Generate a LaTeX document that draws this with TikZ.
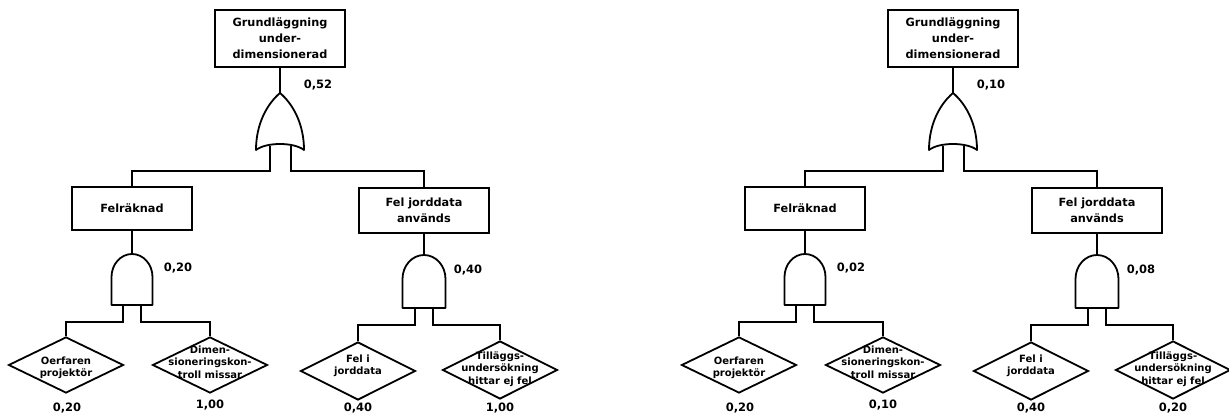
\documentclass[tikz,border=0pt]{standalone}
\usepackage{fontspec}
\setmainfont{DejaVu Sans}
\usetikzlibrary{shapes.geometric}
\tikzset{
  wire/.style={line width=1.8pt},
  gate/.style={line width=1.8pt, line join=round},
  evbox/.style={draw, line width=1.8pt, rectangle, inner sep=0pt, align=center, font=\fontsize{11.3}{16}\selectfont\bfseries},
  dia/.style={draw, line width=1.8pt, diamond, inner sep=0pt, minimum width=115pt, minimum height=56pt},
  dtext/.style={align=center, inner sep=0pt, font=\fontsize{10}{12.5}\selectfont\bfseries},
  prob/.style={inner sep=0pt, font=\fontsize{11.5}{13}\selectfont\bfseries},
}
\newcommand\ftree[7]{%
  \node[evbox, minimum width=130pt, minimum height=57pt] (top) at (280,38.5) {Grundläggning\\under-\\dimensionerad};
  \coordinate (orT) at (280,93);
  \draw[gate] (orT) .. controls (267,104) and (256,124) .. (256,150)
     .. controls (266,142) and (294,142) .. (304,150)
     .. controls (304,124) and (293,104) .. (orT);
  \draw[wire] (top.south) -- (orT);
  \node[prob] (ptop) at (318,85) {#1};
  \node[evbox, minimum width=120pt, minimum height=43pt] (fel) at (132,208.5) {Felräknad};
  \node[evbox, minimum width=130pt, minimum height=45pt] (jord) at (424,210.5) {Fel jorddata\\används};
  \coordinate (orL) at (270,146);
  \coordinate (orR) at (291,146);
  \draw[wire] (orL) -- ++(0,25) -| (fel.north);
  \draw[wire] (orR) -- ++(0,25) -| (jord.north);
  % AND gate 1
  \coordinate (a1T) at (132,254);
  \draw[gate] (111.5,305) -- (111.5,277) .. controls (111.5,264.3) and (120.7,254) .. (a1T)
     .. controls (143.3,254) and (152.5,264.3) .. (152.5,277) -- (152.5,305) -- cycle;
  \draw[wire] (fel.south) -- (a1T);
  \node[prob] (pg1) at (178,268) {#2};
  % AND gate 2
  \coordinate (a2T) at (424,255);
  \draw[gate] (402.5,308) -- (402.5,279) .. controls (402.5,265.7) and (412.1,255) .. (a2T)
     .. controls (435.9,255) and (445.5,265.7) .. (445.5,279) -- (445.5,308) -- cycle;
  \draw[wire] (jord.south) -- (a2T);
  \node[prob] (pg2) at (468,270) {#3};
  % diamonds
  \node[dia] (d1) at (66,365) {};
  \node[dia] (d2) at (210,365) {};
  \node[dia, minimum height=58pt] (d3) at (358,371) {};
  \node[dia, minimum height=58pt] (d4) at (500,370) {};
  \node[dtext] (t1) at (66,368) {Oerfaren\\projektör};
  \node[dtext] (t2) at (210,362) {Dimen-\\sioneringskon-\\troll missar};
  \node[dtext] (t3) at (358,366) {Fel i\\jorddata};
  \node[dtext] (t4) at (500,369) {Tilläggs-\\undersökning\\hittar ej fel};
  \coordinate (a1L) at (123,305);
  \coordinate (a1R) at (141,305);
  \coordinate (a2L) at (415,308);
  \coordinate (a2R) at (433,308);
  \draw[wire] (a1L) -- ++(0,17) -| (d1.north);
  \draw[wire] (a1R) -- ++(0,17) -| (d2.north);
  \draw[wire] (a2L) -- ++(0,17) -| (d3.north);
  \draw[wire] (a2R) -- ++(0,17) -| (d4.north);
  \node[prob] (p1) at (67,408) {#4};
  \node[prob] (p2) at (210,405) {#5};
  \node[prob] (p3) at (358,408) {#6};
  \node[prob] (p4) at (500,408) {#7};
}
\begin{document}
\begin{tikzpicture}[x=1pt, y=-1pt]
  \useasboundingbox (0,0) rectangle (1229,414);
  \begin{scope}[name prefix=L-]
    \ftree{0,52}{0,20}{0,40}{0,20}{1,00}{0,40}{1,00}
  \end{scope}
  \begin{scope}[xshift=673pt, name prefix=R-]
    \ftree{0,10}{0,02}{0,08}{0,20}{0,10}{0,40}{0,20}
  \end{scope}
\end{tikzpicture}
\end{document}
